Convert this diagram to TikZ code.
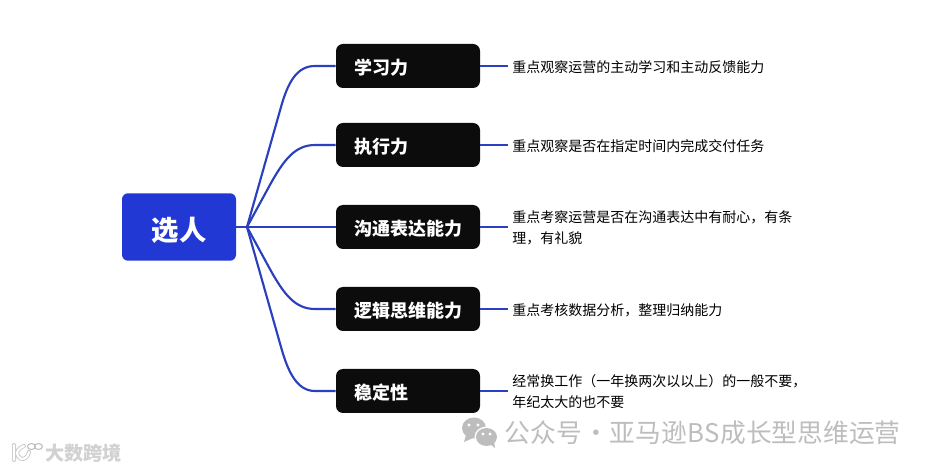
\documentclass[tikz,border=0pt]{standalone}
\usepackage{fontspec}
\setmainfont{Noto Sans CJK SC}
\definecolor{rootblue}{HTML}{2238D4}
\definecolor{linkblue}{HTML}{2A40BE}
\definecolor{boxblack}{HTML}{0C0C0C}
\definecolor{wmgray}{HTML}{BDBDBD}
\newcommand{\midtext}[1]{\raisebox{-0.5em}[0pt][0pt]{#1}}
\tikzset{
  x=0.75pt,y=-0.75pt,
  rootbox/.style={fill=rootblue,rounded corners=6pt*0.75,minimum width=85.5pt,minimum height=50.6pt,inner sep=0pt,text=white,font=\fontsize{20.5pt}{24pt}\selectfont\bfseries},
  catbox/.style={fill=boxblack,rounded corners=7pt*0.75,minimum width=108pt,minimum height=33pt,inner sep=0pt,text=white,font=\fontsize{13.5pt}{16pt}\selectfont\bfseries,text width=81pt,align=left},
  desc/.style={anchor=west,inner ysep=0pt,inner xsep=3pt,text=black,font=\fontsize{10.5pt}{15.5pt}\selectfont,align=left},
  link/.style={draw=linkblue,line width=1.6pt},
  wm/.style={text=wmgray,inner sep=0pt,anchor=west},
}
\begin{document}
\begin{tikzpicture}
\useasboundingbox (0,0) rectangle (929,470);
\fill[white] (0,0) rectangle (929,470);
\node[rootbox] (root) at (179,227) {\midtext{选人}};
\coordinate (hub) at (247,227);
\node[catbox] (a) at (408,66) {\midtext{学习力}};
\node[catbox] (b) at (408,145) {\midtext{执行力}};
\node[catbox] (c) at (408,227) {\midtext{沟通表达能力}};
\node[catbox] (d) at (408,309) {\midtext{逻辑思维能力}};
\node[catbox] (e) at (408,391) {\midtext{稳定性}};
\node[desc] (ta) at (508,67) {重点观察运营的主动学习和主动反馈能力};
\node[desc] (tb) at (508,146) {重点观察是否在指定时间内完成交付任务};
\node[desc] (tc) at (508,228) {重点考察运营是否在沟通表达中有耐心，有条\\理，有礼貌};
\node[desc] (td) at (508,310) {重点考核数据分析，整理归纳能力};
\node[desc] (te) at (508,391.5) {经常换工作（一年换两次以以上）的一般不要，\\年纪太大的也不要};
\draw[link] (root.east) -- (hub);
\draw[link] (hub) -- (281,107) .. controls (288,82) and (297,66) .. (315,66) -- (a.west);
\draw[link] (hub) -- (271,183) .. controls (284,160) and (295,145) .. (315,145) -- (b.west);
\draw[link] (hub) -- (c.west);
\draw[link] (hub) -- (271,271) .. controls (284,294) and (295,309) .. (315,309) -- (d.west);
\draw[link] (hub) -- (281,347) .. controls (288,372) and (297,391) .. (315,391) -- (e.west);
\draw[link] (a.east) -- (a.east -| ta.west);
\draw[link] (b.east) -- (b.east -| tb.west);
\draw[link] (c.east) -- (c.east -| tc.west);
\draw[link] (d.east) -- (d.east -| td.west);
\draw[link] (e.east) -- (e.east -| te.west);
% watermark right
\fill[wmgray] (474,428) ellipse (12 and 10.5);
\fill[wmgray] (466,435) -- (464,442) -- (473,438) -- cycle;
\fill[white] (486.5,437) ellipse (12 and 10.5);
\fill[wmgray] (486.5,437) ellipse (10.5 and 9);
\fill[wmgray] (490,444) -- (495,448) -- (494,441) -- cycle;
\foreach \p in {(469,425),(478,425),(483,434),(490,434)} \fill[white] \p circle (1.7);
\node[wm,font=\fontsize{19.3pt}{22pt}\selectfont] (wm1) at (504.5,433) {公众号\hspace{0.8pt}·\hspace{0.8pt}亚马逊\hspace{0.6pt}BS\hspace{0.6pt}成长型思维运营};
% watermark left
\draw[black!22,line width=3pt,line cap=round,line join=round] (14,445) -- (14,460) (24,446) .. controls (17,449) and (16,453) .. (18,456) .. controls (21,461) and (27,460) .. (29,452);
\draw[white,line width=1.7pt,line cap=round,line join=round] (14,445) -- (14,460) (24,446) .. controls (17,449) and (16,453) .. (18,456) .. controls (21,461) and (27,460) .. (29,452);
\draw[black!25,line width=0.8pt,fill=white] (31.5,446.5) ellipse (4 and 3) (38.5,446.5) ellipse (4 and 3);
\node[wm,font=\fontsize{14.4pt}{16pt}\selectfont\bfseries,text=black!18] (wm2) at (45,453) {大数跨境};
\end{tikzpicture}
\end{document}
